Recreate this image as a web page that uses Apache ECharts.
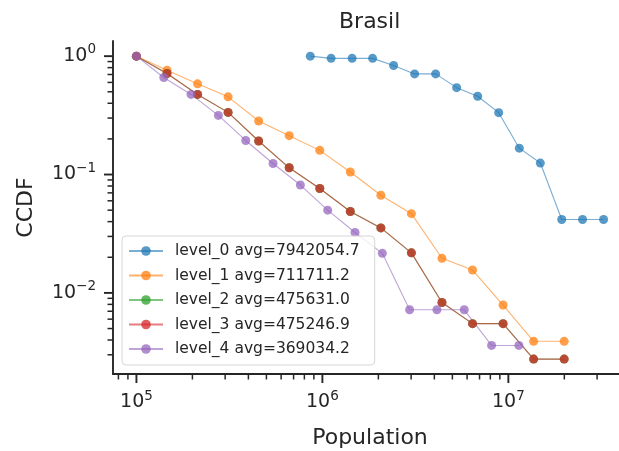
<!DOCTYPE html>
<html>
<head>
<meta charset="utf-8">
<script src="https://cdn.jsdelivr.net/npm/echarts@6/dist/echarts.min.js"></script>
<style>
  html, body { margin: 0; padding: 0; background: #fff; }
  #main { width: 619px; height: 451px; }
</style>
</head>
<body>
<div id="main"></div>
<script>
  // population bins (x) and CCDF values (y)
  const level0X = [861000, 1114000, 1445000, 1862000, 2415000, 3133000, 4064000, 5272000,
    6839000, 8872000, 11455000, 14859000, 19364000, 25061000, 32509000];
  const level0Y = [1.0, 0.958, 0.958, 0.958, 0.833, 0.708, 0.708, 0.542, 0.458, 0.333,
    0.167, 0.125, 0.0417, 0.0417, 0.0417];

  const level123X = [100000, 146000, 213200, 311100, 454200, 663000, 968000, 1413000,
    2063000, 3011000, 4395000, 6417000, 9367000, 13675000, 19962000];
  const level1Y = [1.0, 0.762, 0.584, 0.453, 0.283, 0.213, 0.160, 0.105, 0.0668, 0.0467,
    0.0196, 0.0156, 0.0079, 0.0039, 0.0039];
  const level2Y = [1.0, 0.714, 0.475, 0.335, 0.192, 0.114, 0.0762, 0.0487, 0.0354, 0.0218,
    0.0083, 0.0055, 0.0055, 0.00276, 0.00276];
  const level3Y = [1.0, 0.714, 0.475, 0.335, 0.192, 0.114, 0.0762, 0.0487, 0.0354, 0.0218,
    0.0083, 0.0055, 0.0055, 0.00276, 0.00276];

  const level4X = [100000, 140300, 196700, 275900, 387000, 542800, 761300, 1067800,
    1497600, 2100500, 2944000, 4130000, 5792000, 8124000, 11395000];
  const level4Y = [1.0, 0.661, 0.475, 0.316, 0.194, 0.124, 0.0815, 0.050, 0.0324, 0.0216,
    0.0072, 0.0072, 0.0072, 0.0036, 0.0036];

  const seriesNames = ['level_0 avg=7942054.7', 'level_1 avg=711711.2', 'level_2 avg=475631.0',
    'level_3 avg=475246.9', 'level_4 avg=369034.2'];

  // axis ranges and tick values
  const X_MIN = 74820, X_MAX = 43450000;
  const Y_MIN = 0.002065, Y_MAX = 1.343;
  const xMajorTicks = [1e5, 1e6, 1e7];
  const xMinorTicks = [8e4, 9e4, 2e5, 3e5, 4e5, 5e5, 6e5, 7e5, 8e5, 9e5,
    2e6, 3e6, 4e6, 5e6, 6e6, 7e6, 8e6, 9e6, 2e7, 3e7, 4e7];
  const yMajorTicks = [1e-2, 1e-1, 1];
  const yMinorTicks = [3e-3, 4e-3, 5e-3, 6e-3, 7e-3, 8e-3, 9e-3,
    2e-2, 3e-2, 4e-2, 5e-2, 6e-2, 7e-2, 8e-2, 9e-2,
    2e-1, 3e-1, 4e-1, 5e-1, 6e-1, 7e-1, 8e-1, 9e-1];

  const colors = ['#1f77b4', '#ff7f0e', '#2ca02c', '#d62728', '#9467bd'];
  const ink = '#262626';
  const font = 'DejaVu Sans';

  function pair(xs, ys) {
    return xs.map((x, i) => [x, ys[i]]);
  }

  // 10^n label with superscript, blank for anything that is not a power of ten
  function powLabel(v) {
    const l = Math.log10(v);
    const e = Math.round(l);
    if (Math.abs(l - e) > 1e-6) return '';
    return '{b|10}{s|' + (e < 0 ? '\u2212' + (-e) : e) + '}';
  }
  const labelRich = {
    b: { fontSize: 19, fontFamily: font, color: ink },
    s: { fontSize: 13.5, fontFamily: font, color: ink, padding: [0, 0, 13, 0] }
  };

  function lineSeries(name, data, color) {
    return {
      name: name,
      type: 'line',
      data: data,
      symbol: 'circle',
      symbolSize: 9,
      itemStyle: { color: color, opacity: 0.75 },
      lineStyle: { color: color, width: 1.1, opacity: 0.6 },
      emphasis: { disabled: true },
      animation: false
    };
  }

  function xTickSeries(values, len, width) {
    return {
      type: 'custom',
      silent: true,
      animation: false,
      data: values.map((v) => [v, Y_MIN]),
      renderItem: function (params, api) {
        const p = api.coord([api.value(0), Y_MIN]);
        return {
          type: 'line',
          shape: { x1: p[0], y1: p[1], x2: p[0], y2: p[1] + len },
          style: { stroke: ink, lineWidth: width }
        };
      }
    };
  }

  function yTickSeries(values, len, width) {
    return {
      type: 'custom',
      silent: true,
      animation: false,
      data: values.map((v) => [X_MIN, v]),
      renderItem: function (params, api) {
        const p = api.coord([X_MIN, api.value(1)]);
        return {
          type: 'line',
          shape: { x1: p[0], y1: p[1], x2: p[0] - len, y2: p[1] },
          style: { stroke: ink, lineWidth: width }
        };
      }
    };
  }

  const option = {
    backgroundColor: '#ffffff',
    animation: false,
    title: {
      text: 'Brasil',
      left: 334,
      top: 6,
      textStyle: { fontFamily: font, fontSize: 22, fontWeight: 'normal', color: ink }
    },
    legend: {
      data: seriesNames,
      orient: 'vertical',
      left: 122,
      top: 236,
      padding: [7, 15, 8, 6],
      itemGap: 8.5,
      itemWidth: 34,
      itemHeight: 12,
      backgroundColor: 'rgba(255,255,255,0.8)',
      borderColor: '#d6d6d6',
      borderWidth: 1,
      borderRadius: 4,
      textStyle: { fontFamily: font, fontSize: 15.5, color: ink, padding: [0, 0, 0, 7] }
    },
    grid: { left: 113, top: 41, width: 514, height: 333, outerBoundsMode: 'none', containLabel: false },
    xAxis: {
      type: 'log',
      min: X_MIN,
      max: X_MAX,
      name: 'Population',
      nameLocation: 'middle',
      nameGap: 53,
      nameTextStyle: { fontFamily: font, fontSize: 22, color: ink },
      axisLine: { show: true, onZero: false, lineStyle: { color: ink, width: 1.9 } },
      axisTick: { show: false },
      splitLine: { show: false },
      axisLabel: { margin: 15, formatter: powLabel, rich: labelRich }
    },
    yAxis: {
      type: 'log',
      min: Y_MIN,
      max: Y_MAX,
      name: 'CCDF',
      nameLocation: 'middle',
      nameGap: 76,
      nameTextStyle: { fontFamily: font, fontSize: 22, color: ink },
      axisLine: { show: true, onZero: false, lineStyle: { color: ink, width: 1.9 } },
      axisTick: { show: false },
      splitLine: { show: false },
      axisLabel: { margin: 17, formatter: powLabel, rich: labelRich }
    },
    series: [
      lineSeries(seriesNames[0], pair(level0X, level0Y), colors[0]),
      lineSeries(seriesNames[1], pair(level123X, level1Y), colors[1]),
      lineSeries(seriesNames[2], pair(level123X, level2Y), colors[2]),
      lineSeries(seriesNames[3], pair(level123X, level3Y), colors[3]),
      lineSeries(seriesNames[4], pair(level4X, level4Y), colors[4]),
      xTickSeries(xMajorTicks, 9, 1.9),
      xTickSeries(xMinorTicks, 5.5, 1.5),
      yTickSeries(yMajorTicks, 9, 1.9),
      yTickSeries(yMinorTicks, 5.5, 1.5)
    ]
  };

  const myChart = echarts.init(document.getElementById('main'));
  myChart.setOption(option);
</script>
</body>
</html>
